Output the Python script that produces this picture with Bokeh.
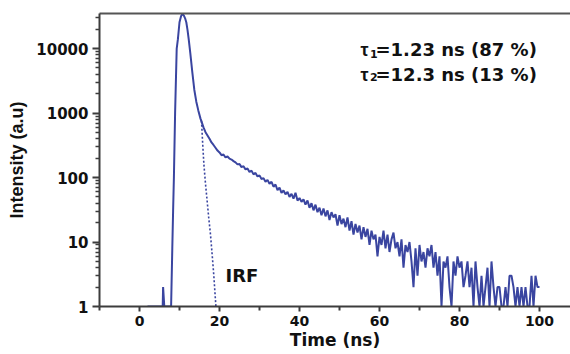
import math
from bokeh.plotting import figure
from bokeh.models import (Range1d, FixedTicker, NumeralTickFormatter, LinearAxis, Label)
from bokeh.embed import file_html
from bokeh.resources import INLINE

# ---- data ----
t_rise = [2.0, 5.8, 5.9, 6.2, 7.9, 8.0, 8.2, 8.4, 8.6, 8.9, 9.3, 9.6, 10.0, 10.4, 10.75,
          11.1, 11.4, 11.7, 12.0, 12.3, 12.7, 13.2, 13.7, 14.2, 14.7, 15.25, 15.7]
counts_rise = [1, 1, 2, 1, 1, 2, 8, 30, 100, 1000, 10000, 14000, 25600, 32000, 34500,
               32500, 29500, 25600, 19500, 14000, 8500, 4300, 2300, 1500, 1100, 820, 680]

t_decay = [16.0, 16.5, 17.0, 17.5, 18.0, 18.5, 19.0, 19.5, 20.0, 20.5,
           21.0, 21.5, 22.0, 22.5, 23.0, 23.5, 24.0, 24.5, 25.0, 25.5,
           26.0, 26.5, 27.0, 27.5, 28.0, 28.5, 29.0, 29.5, 30.0, 30.5,
           31.0, 31.5, 32.0, 32.5, 33.0, 33.5, 34.0, 34.5, 35.0, 35.5,
           36.0, 36.5, 37.0, 37.5, 38.0, 38.5, 39.0, 39.5, 40.0, 40.5,
           41.0, 41.5, 42.0, 42.5, 43.0, 43.5, 44.0, 44.5, 45.0, 45.5,
           46.0, 46.5, 47.0, 47.5, 48.0, 48.5, 49.0, 49.5, 50.0, 50.5,
           51.0, 51.5, 52.0, 52.5, 53.0, 53.5, 54.0, 54.5, 55.0, 55.5,
           56.0, 56.5, 57.0, 57.5, 58.0, 58.5, 59.0, 59.5, 60.0, 60.5,
           61.0, 61.5, 62.0, 62.5, 63.0, 63.5, 64.0, 64.5, 65.0, 65.5,
           66.0, 66.5, 67.0, 67.5, 68.0, 68.5, 69.0, 69.5, 70.0, 70.5,
           71.0, 71.5, 72.0, 72.5, 73.0, 73.5, 74.0, 74.5, 75.0, 75.5,
           76.0, 76.5, 77.0, 77.5, 78.0, 78.5, 79.0, 79.5, 80.0, 80.5,
           81.0, 81.5, 82.0, 82.5, 83.0, 83.5, 84.0, 84.5, 85.0, 85.5,
           86.0, 86.5, 87.0, 87.5, 88.0, 88.5, 89.0, 89.5, 90.0, 90.5,
           91.0, 91.5, 92.0, 92.5, 93.0, 93.5, 94.0, 94.5, 95.0, 95.5,
           96.0, 96.5, 97.0, 97.5, 98.0, 98.5, 99.0, 99.5, 100.0]
counts_decay = [600, 505, 450, 400, 350, 320, 290, 262, 245, 222,
                228, 205, 212, 196, 190, 180, 172, 160, 162, 145,
                150, 134, 138, 122, 128, 112, 118, 104, 108, 95,
                98, 86, 92, 80, 86, 72, 78, 64, 70, 58,
                63, 55, 60, 50, 56, 47, 58, 44, 48, 42,
                46, 38, 44, 34, 40, 31, 38, 29, 34, 26,
                33, 25, 31, 22, 29, 24, 27, 18, 26, 19,
                23, 17, 24, 15, 21, 13, 19, 14, 18, 11,
                17, 12, 16, 9, 15, 11, 13, 6, 12, 9,
                15, 8, 13, 7, 11, 14, 8, 10, 6, 11,
                4, 9, 7, 10, 5, 2, 8, 3, 9, 5,
                7, 4, 8, 6, 9, 4, 7, 3, 6, 1,
                5, 4, 6, 2, 1, 5, 3, 6, 4, 5,
                2, 3, 5, 2, 4, 1, 5, 2, 1, 3,
                1, 2, 4, 1, 5, 2, 1, 2, 2, 1,
                1, 2, 1, 3, 3, 2, 1, 2, 1, 2,
                1, 2, 1, 1, 3, 1, 3, 2, 2]

t_irf = [15.5, 15.8, 16.1, 16.5, 16.9, 17.3, 17.75, 18.2, 18.6, 19.1]
counts_irf = [760, 330, 160, 80, 44, 24, 13, 6, 2.9, 1]

x_ticks = [0, 20, 40, 60, 80, 100]
x_minor = [-10, 10, 30, 50, 70, 90]
y_ticks = [1, 10, 100, 1000, 10000]
y_minor = [m * d for d in (1, 10, 100, 1000, 10000) for m in range(2, 10)]

ann_line1 = "=1.23 ns (87 %)"
ann_line2 = "=12.3 ns (13 %)"

BLUE = "#3a45a0"
FONT = "DejaVu Sans"

t_main = t_rise + t_decay
counts_main = counts_rise + counts_decay

p = figure(width=570, height=354, y_axis_type="log", output_backend="svg",
           toolbar_location=None, x_range=Range1d(-10, 107.75),
           y_range=Range1d(1, 35000),
           min_border_left=99, min_border_right=0, min_border_top=13, min_border_bottom=48)
p.outline_line_color = None
p.xgrid.visible = False
p.ygrid.visible = False
p.background_fill_color = "white"
p.border_fill_color = "white"

p.line(t_main, counts_main, line_color=BLUE, line_width=2)
p.line(t_irf, counts_irf, line_color=BLUE, line_width=1.6, line_dash="2 2")

AX = "#3c3c3c"
xa = p.xaxis[0]
xa.ticker = FixedTicker(ticks=x_ticks, minor_ticks=x_minor)
xa.axis_line_color = AX
xa.axis_line_width = 2
xa.major_tick_line_color = AX
xa.minor_tick_line_color = AX
xa.major_tick_line_width = 2
xa.minor_tick_line_width = 2
xa.major_tick_in = 0
xa.major_tick_out = 5
xa.minor_tick_in = 0
xa.minor_tick_out = 4
xa.major_label_text_font = FONT
xa.major_label_text_font_style = "bold"
xa.major_label_text_font_size = "14px"
xa.major_label_text_color = "#111111"
xa.major_label_standoff = 4
xa.axis_label = "Time (ns)"
xa.axis_label_text_font = FONT
xa.axis_label_text_font_style = "bold"
xa.axis_label_text_font_size = "17px"
xa.axis_label_text_color = "#111111"
xa.axis_label_standoff = 1

ya = p.yaxis[0]
ya.ticker = FixedTicker(ticks=y_ticks, minor_ticks=y_minor)
ya.formatter = NumeralTickFormatter(format="0")
ya.axis_line_color = AX
ya.axis_line_width = 2
ya.major_tick_line_color = AX
ya.minor_tick_line_color = AX
ya.major_tick_line_width = 2
ya.minor_tick_line_width = 1.5
ya.major_tick_in = 0
ya.major_tick_out = 7
ya.minor_tick_in = 0
ya.minor_tick_out = 4
ya.major_label_text_font = FONT
ya.major_label_text_font_style = "bold"
ya.major_label_text_font_size = "15px"
ya.major_label_text_color = "#111111"
ya.major_label_standoff = 4
ya.axis_label = "Intensity (a.u)"
ya.axis_label_text_font = "Liberation Sans"
ya.axis_label_text_font_style = "bold"
ya.axis_label_text_font_size = "18px"
ya.axis_label_text_color = "#111111"
ya.axis_label_standoff = 6

top = LinearAxis(axis_line_color="#555555", axis_line_width=2,
                 ticker=FixedTicker(ticks=[]),
                 major_tick_line_color=None, minor_tick_line_color=None,
                 major_label_standoff=0)
p.add_layout(top, "above")

# annotations
def add_text(x, y, text, size, font=FONT):
    p.add_layout(Label(x=x, y=y, text=text, text_align="left", text_baseline="alphabetic",
                       text_font=font, text_font_style="bold", text_font_size=size,
                       text_color="#111111"))

add_text(55.25, 9550, "\u03c4", "18px", "Liberation Sans")
add_text(57.6, 8360, "1", "11px")
add_text(59.0, 9550, ann_line1, "18px")
add_text(55.25, 3955, "\u03c4", "18px", "Liberation Sans")
add_text(57.6, 3680, "2", "11px")
add_text(59.0, 3955, ann_line2, "18px")
add_text(21.5, 3.02, "IRF", "18px")

open("out.html", "w").write(file_html(p, INLINE))
